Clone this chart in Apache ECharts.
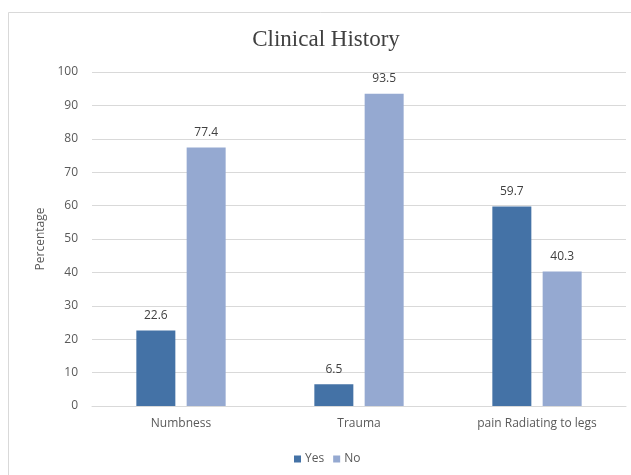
<!DOCTYPE html>
<html>
<head>
<meta charset="utf-8">
<title>Clinical History</title>
<script src="https://cdn.jsdelivr.net/npm/echarts@6/dist/echarts.min.js"></script>
<style>
  html, body { margin: 0; padding: 0; background: #ffffff; }
  #chart { width: 631px; height: 475px; }
</style>
</head>
<body>
<div id="chart"></div>
<script>
// Categories and percentages
const categories = ['Numbness', 'Trauma', 'pain Radiating to legs'];
const yesValues = [22.6, 6.5, 59.7];
const noValues = [77.4, 93.5, 40.3];
const seriesNames = ['Yes', 'No'];

const textColor = '#595959';
const sansFont = '"Open Sans", "Liberation Sans", sans-serif';

const chart = echarts.init(document.getElementById('chart'), null, { renderer: 'canvas' });

const labelStyle = {
  show: true,
  position: 'top',
  distance: 9,
  color: '#404040',
  fontSize: 12,
  fontFamily: sansFont,
  formatter: p => p.value.toFixed(1)
};

chart.setOption({
  backgroundColor: '#ffffff',
  animation: false,
  graphic: [{
    type: 'rect',
    shape: { x: 8.5, y: 12.5, width: 700, height: 600 },
    style: { fill: 'none', stroke: '#d9d9d9', lineWidth: 1 },
    silent: true,
    z: -1
  }],
  title: {
    text: 'Clinical History',
    left: 321,
    textAlign: 'center',
    top: 23,
    textStyle: {
      fontFamily: '"Liberation Serif", "DejaVu Serif", serif',
      fontWeight: 'normal',
      fontSize: 23,
      color: '#404040'
    }
  },
  legend: {
    data: seriesNames,
    top: 448,
    left: 289,
    itemWidth: 7,
    itemHeight: 7,
    itemGap: 9,
    icon: 'rect',
    textStyle: { color: textColor, fontSize: 12, fontFamily: sansFont, padding: [0, 0, 0, -1] }
  },
  grid: { left: 92, right: 5, top: 72, bottom: 69, containLabel: false },
  xAxis: {
    type: 'category',
    data: categories,
    axisLine: { lineStyle: { color: '#d9d9d9' } },
    axisTick: { show: false },
    axisLabel: { color: textColor, fontSize: 12, fontFamily: sansFont, margin: 12 }
  },
  yAxis: {
    type: 'value',
    min: 0,
    max: 100,
    interval: 10,
    name: 'Percentage',
    nameLocation: 'middle',
    nameGap: 45,
    nameRotate: 90,
    nameTextStyle: { color: textColor, fontSize: 12, fontFamily: sansFont },
    axisLine: { show: false },
    axisTick: { show: false },
    axisLabel: { color: textColor, fontSize: 12, fontFamily: sansFont, margin: 14 },
    splitLine: { lineStyle: { color: '#d9d9d9' } }
  },
  series: [
    {
      name: seriesNames[0],
      type: 'bar',
      data: yesValues,
      barWidth: 39,
      barGap: '29%',
      itemStyle: { color: '#4472a6' },
      label: labelStyle
    },
    {
      name: seriesNames[1],
      type: 'bar',
      data: noValues,
      barWidth: 39,
      itemStyle: { color: '#95a9d1' },
      label: labelStyle
    }
  ]
});
</script>
</body>
</html>
